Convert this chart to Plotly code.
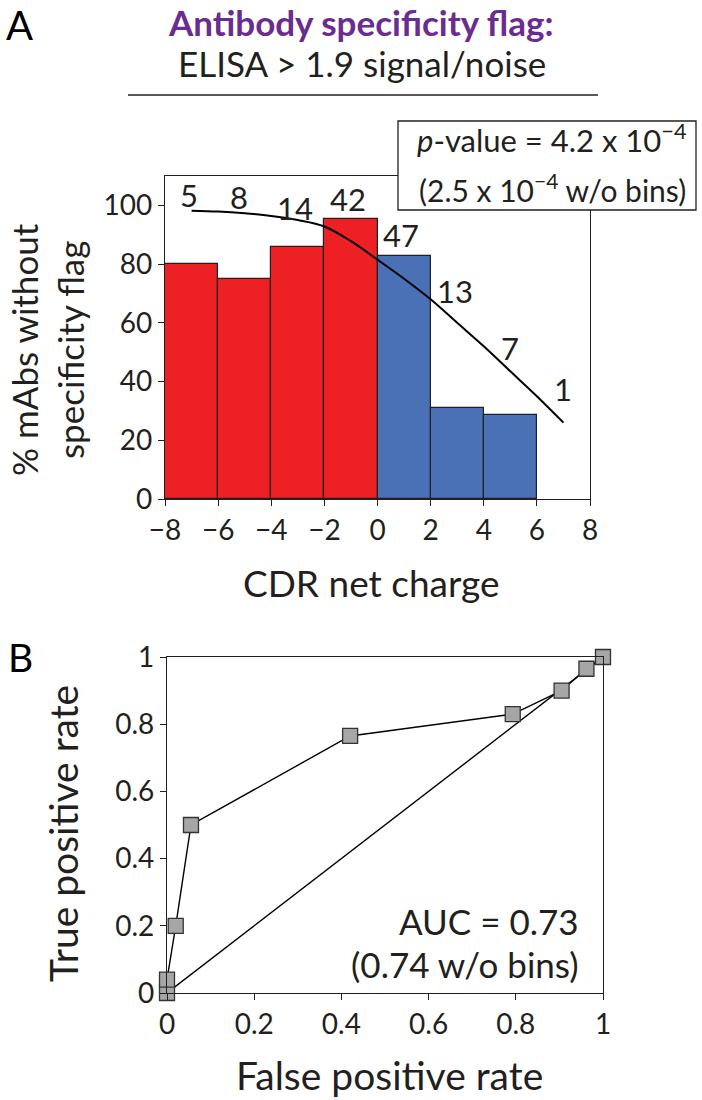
import plotly.graph_objects as go

# ---------------- data ----------------
bin_centers = [-7, -5, -3, -1, 1, 3, 5]
pct_without_flag = [80, 75, 85.7, 95.2, 82.9, 31, 28.5]
bin_counts = ["5", "8", "14", "42", "47", "13", "7", "1"]
count_x = [-7.1, -5.2, -3.1, -1.1, 0.9, 2.9, 5.0, 7.0]
count_y = [103.7, 102.7, 99.2, 102.0, 90.0, 70.7, 51.5, 37.3]

fit_x = [-7, -6, -5, -4, -3, -2, -1, 0, 1, 2, 3, 4, 5, 6, 7]
fit_y = [98.2, 97.9, 97.3, 96.4, 95.0, 92.8, 87.8, 81.5, 75, 68, 60, 52, 43.5, 35, 26]

fpr = [0, 0, 0.02, 0.055, 0.42, 0.793, 0.905, 0.962, 1.0]
tpr = [0, 0.04, 0.2, 0.5, 0.765, 0.83, 0.9, 0.965, 1.0]
diag_x = [0, 1]
diag_y = [0, 1]

xticks_a = [-8, -6, -4, -2, 0, 2, 4, 6, 8]
yticks_a = [0, 20, 40, 60, 80, 100]
ticks_b = [0, 0.2, 0.4, 0.6, 0.8, 1]

# ---------------- style ----------------
W, H = 702, 1100
FONT = "Lato, 'Open Sans', sans-serif"
INK = "#231F20"
RED = "#ED2024"
BLUE = "#4A70B6"
PURPLE = "#6A2C91"


def px(x):
    return x / W


def py(y):
    return 1 - y / H


bar_colors = [RED if c < 0 else BLUE for c in bin_centers]

fig = go.Figure()
fig.add_trace(go.Bar(x=bin_centers, y=pct_without_flag, width=2,
                     marker=dict(color=bar_colors, line=dict(color=INK, width=1.2)),
                     xaxis="x", yaxis="y", showlegend=False))
fig.add_trace(go.Scatter(x=fit_x, y=fit_y, mode="lines",
                         line=dict(color="black", width=2, shape="spline"),
                         xaxis="x", yaxis="y", showlegend=False))
fig.add_trace(go.Scatter(x=diag_x, y=diag_y, mode="lines",
                         line=dict(color="black", width=1.4),
                         xaxis="x2", yaxis="y2", showlegend=False))
fig.add_trace(go.Scatter(x=fpr, y=tpr, mode="lines+markers",
                         line=dict(color="black", width=1.4),
                         marker=dict(symbol="square", size=15, color="#A6A6A6",
                                     line=dict(color="#333333", width=1.3)),
                         cliponaxis=False,
                         xaxis="x2", yaxis="y2", showlegend=False))

axis_common = dict(showgrid=False, zeroline=False, showline=True, linecolor=INK,
                   linewidth=1.3, mirror=True, ticks="outside", ticklen=6,
                   tickwidth=1.3, tickcolor=INK, automargin=False,
                   tickfont=dict(family=FONT, size=28, color=INK))

fig.update_layout(
    width=W, height=H, margin=dict(l=0, r=0, t=0, b=0, autoexpand=False),
    paper_bgcolor="white", plot_bgcolor="white",
    bargap=0, showlegend=False,
    font=dict(family=FONT, color=INK),
    xaxis=dict(domain=[px(165), px(590)], range=[-8, 8], tickvals=xticks_a,
               anchor="y", **axis_common),
    yaxis=dict(domain=[py(499), py(176)], range=[0, 110], tickvals=yticks_a,
               anchor="x", **axis_common),
    xaxis2=dict(domain=[px(167), px(603)], range=[0, 1], tickvals=ticks_b,
                anchor="y2", **axis_common),
    yaxis2=dict(domain=[py(993), py(657)], range=[0, 1], tickvals=ticks_b,
                anchor="x2", **axis_common),
)

ann = []


def note(text, x, y, size, color=INK, xref="paper", yref="paper",
         xanchor="center", angle=0):
    if xref == "paper":
        x = px(x)
    if yref == "paper":
        y = py(y)
    ann.append(dict(text=text, x=x, y=y, xref=xref, yref=yref, showarrow=False,
                    xanchor=xanchor, yanchor="middle", textangle=angle,
                    font=dict(family=FONT, size=size, color=color)))


# count labels
for t, x, y in zip(bin_counts, count_x, count_y):
    note(t, x, y, 31, xref="x", yref="y")

# titles
note("<b>Antibody specificity flag:</b>", 361, 22, 35, color=PURPLE)
note("ELISA > 1.9 signal/noise", 362, 63, 35)
note("A", 19, 25, 40, color="black")
note("B", 20, 657, 39, color="black")

# p-value box text
note("<i>p</i>-value = 4.2 x 10<sup>\u22124</sup>", 552, 139, 31)
note("(2.5 x 10<sup>\u22124</sup> w/o bins)", 552, 188, 30)

# axis titles
note("% mAbs without<br>specificity flag", 47, 350, 35, angle=-90)
note("CDR net charge", 371, 582, 37)
note("True positive rate", 63, 834, 39, angle=-90)
note("False positive rate", 389, 1075, 39)

# AUC text
note("AUC = 0.73", 0.95, 0.215, 35, xref="x2", yref="y2", xanchor="right")
note("(0.74 w/o bins)", 0.95, 0.087, 35, xref="x2", yref="y2", xanchor="right")

fig.update_layout(annotations=ann)

shapes = [
    dict(type="line", xref="paper", yref="paper", x0=px(128), x1=px(598),
         y0=py(95), y1=py(95), line=dict(color=INK, width=1.5)),
    dict(type="rect", xref="paper", yref="paper", x0=px(398), x1=px(696),
         y0=py(210), y1=py(121), fillcolor="white",
         line=dict(color=INK, width=1.3), layer="above"),
]
fig.update_layout(shapes=shapes)

# remove the default 8 px page margin so the figure sits at the window origin
fig.write_html("out.html",
               config={"displayModeBar": False},
               post_script="document.body.style.margin='0';"
                           "document.body.style.padding='0';")
